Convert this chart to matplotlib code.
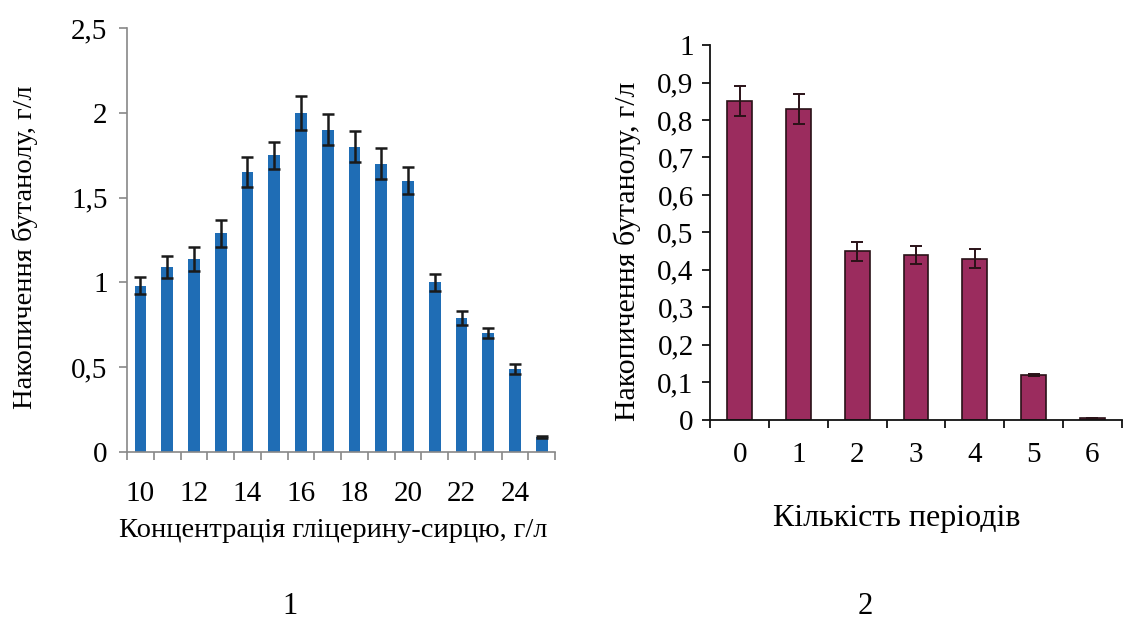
import numpy as np
import matplotlib
matplotlib.use('Agg')
import matplotlib.pyplot as plt

plt.rcParams['font.family'] = ['Liberation Serif', 'DejaVu Serif']

# panel 1: glycerol concentration vs butanol
conc = [10, 11, 12, 13, 14, 15, 16, 17, 18, 19, 20, 21, 22, 23, 24, 25]
but1 = [0.98, 1.09, 1.14, 1.29, 1.65, 1.75, 2.0, 1.9, 1.8, 1.7, 1.6, 1.0, 0.79, 0.7, 0.49, 0.09]
err1 = [0.05, 0.065, 0.07, 0.08, 0.09, 0.08, 0.1, 0.09, 0.09, 0.09, 0.08, 0.05, 0.04, 0.03, 0.03, 0.005]
ylab1 = ['0', '0,5', '1', '1,5', '2', '2,5']

# panel 2: number of periods vs butanol
periods = [0, 1, 2, 3, 4, 5, 6]
but2 = [0.85, 0.83, 0.45, 0.44, 0.43, 0.12, 0.005]
err2 = [0.04, 0.04, 0.025, 0.025, 0.025, 0.003, 0.0]
ylab2 = ['0', '0,1', '0,2', '0,3', '0,4', '0,5', '0,6', '0,7', '0,8', '0,9', '1']

YLABEL = 'Накопичення бутанолу, г/л'

fig = plt.figure(figsize=(11.24, 6.35), dpi=100)

# ---- panel 1 ----
ax1 = fig.add_axes([0.113, 0.288, 0.381, 0.668])
x1 = np.arange(len(conc))
ax1.bar(x1, but1, 0.44, color='#1f6db5', zorder=2)
ax1.errorbar(x1, but1, yerr=err1, fmt='none', ecolor='#1a1a1a', elinewidth=1.8,
             capsize=4, capthick=1.8, zorder=3)
ax1.set_xlim(-0.5, len(conc) - 0.5)
ax1.set_ylim(0, 2.5)
ax1.set_yticks(np.arange(0, 2.51, 0.5))
ax1.set_yticklabels(ylab1)
ax1.set_xticks(x1[::2])
ax1.set_xticklabels([str(c) for c in conc[::2]])
ax1.set_xticks(np.arange(-0.5, len(conc), 1.0), minor=True)
ax1.tick_params(axis='x', which='major', length=0, labelsize=21, pad=21)
ax1.tick_params(axis='x', which='minor', length=6, width=1.2, color='#888888')
ax1.tick_params(axis='y', length=6, width=1.2, color='#888888', labelsize=21, pad=8)
for s in ['top', 'right']:
    ax1.spines[s].set_visible(False)
for s in ['left', 'bottom']:
    ax1.spines[s].set_color('#888888')
    ax1.spines[s].set_linewidth(1.2)

fig.text(0.022, 0.61, YLABEL, rotation=90, ha='center', va='center', fontsize=20.5)
fig.text(0.296, 0.165, 'Концентрація гліцерину-сирцю, г/л', ha='center', va='center', fontsize=20.5)
fig.text(0.258, 0.045, '1', ha='center', va='center', fontsize=22)

# ---- panel 2 ----
ax2 = fig.add_axes([0.632, 0.339, 0.366, 0.590])
x2 = np.arange(len(periods))
ax2.bar(x2, but2, 0.42, color='#9b2c5e', edgecolor='#2a1218', linewidth=1.2, zorder=2)
ax2.errorbar(x2, but2, yerr=err2, fmt='none', ecolor='#2a1218', elinewidth=1.4,
             capsize=4, capthick=1.4, zorder=3)
ax2.set_xlim(-0.5, len(periods) - 0.5)
ax2.set_ylim(0, 1.0)
ax2.set_yticks(np.arange(0, 1.01, 0.1))
ax2.set_yticklabels(ylab2)
ax2.set_xticks(x2)
ax2.set_xticklabels([str(p) for p in periods])
ax2.set_xticks(np.arange(-0.5, len(periods), 1.0), minor=True)
ax2.tick_params(axis='x', which='major', length=0, labelsize=21, pad=16)
ax2.tick_params(axis='x', which='minor', length=6, width=1.3, color='#111111')
ax2.tick_params(axis='y', length=6, width=1.3, color='#111111', labelsize=21, pad=6)
for s in ['top', 'right']:
    ax2.spines[s].set_visible(False)
for s in ['left', 'bottom']:
    ax2.spines[s].set_color('#111111')
    ax2.spines[s].set_linewidth(1.3)

fig.text(0.558, 0.605, YLABEL, rotation=90, ha='center', va='center', fontsize=21.5)
fig.text(0.798, 0.183, 'Кількість періодів', ha='center', va='center', fontsize=23)
fig.text(0.77, 0.045, '2', ha='center', va='center', fontsize=22)

fig.savefig('out.png', dpi=100, facecolor='white')
